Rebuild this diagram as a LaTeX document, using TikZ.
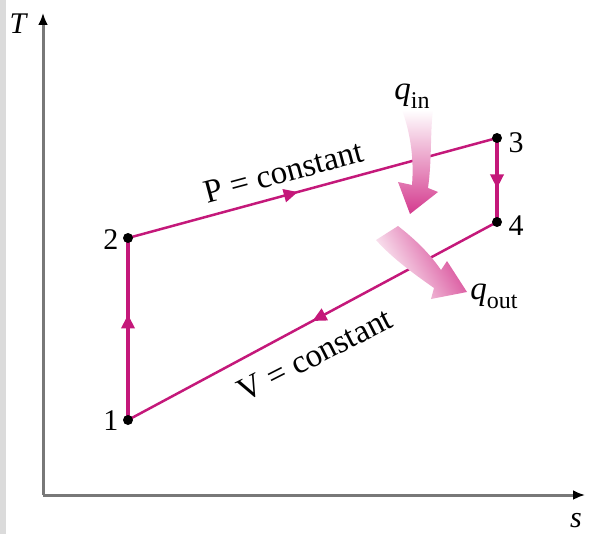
\documentclass[tikz,border=0pt]{standalone}
\usepackage{fontspec}
\setmainfont{Liberation Serif}
\usetikzlibrary{arrows.meta,decorations.markings}
\definecolor{cyclecol}{RGB}{196,24,122}
\definecolor{heatcol}{RGB}{212,58,142}
\definecolor{axiscol}{RGB}{120,120,120}
\tikzset{
  process/.style={draw=cyclecol,line width=2.5pt},
  strong/.style={draw=cyclecol,line width=4pt},
  midarrow/.style={postaction={decorate},
    decoration={markings,mark=at position #1 with {\arrow[cyclecol]{Triangle[length=14pt,width=13pt]}}}},
  state/.style={circle,fill=black,inner sep=0pt,minimum size=10pt},
  axis/.style={draw=axiscol,line width=3pt,-{Latex[length=12pt,width=10pt,black]}},
  lbl/.style={font=\fontsize{30}{34}\selectfont},
  txt/.style={font=\fontsize{33}{38}\selectfont}
}
\newcommand{\heatq}[1]{\textit{q}\raisebox{-0.28em}{\fontsize{24}{26}\selectfont #1}}
\begin{document}
\begin{tikzpicture}[x=1pt,y=-1pt]
\useasboundingbox (0,0) rectangle (601,534);
\fill[black!14] (0,0) rectangle (6,534);
% axes
\coordinate (O) at (43,495);
\coordinate (Ttop) at (43,13);
\coordinate (Send) at (585,495);
\draw[axis] (O) -- (Ttop);
\draw[axis] (O) -- (Send);
\node[lbl,font=\fontsize{30}{34}\selectfont\itshape] (Tl) at (18,24) {T};
\node[lbl,font=\fontsize{30}{34}\selectfont\itshape] (sl) at (576,521) {s};
% states
\coordinate (p1) at (128,420);
\coordinate (p2) at (128,238);
\coordinate (p3) at (497,138);
\coordinate (p4) at (497,222);
\draw[strong,midarrow=0.58] (p1) -- (p2);
\draw[process,midarrow=0.46] (p2) -- (p3);
\draw[strong,midarrow=0.6] (p3) -- (p4);
\draw[process,midarrow=0.5] (p4) -- (p1);
\foreach \p in {p1,p2,p3,p4} \node[state] (\p d) at (\p) {};
\node[lbl,anchor=east] (n1) at (122,421) {1};
\node[lbl,anchor=east] (n2) at (122,240) {2};
\node[lbl,anchor=west] (n3) at (505,143) {3};
\node[lbl,anchor=west] (n4) at (505,226) {4};
\node[txt,rotate=15] (pc) at (284,172) {P = constant};
\node[txt,rotate=27,inner sep=1pt] (vc) at (315,355) {V = constant};
% heat arrows
\shade[top color=white,bottom color=heatcol]
  (402,110) .. controls (411,135) and (414,160) .. (412,185)
  -- (398,182) -- (410,214) -- (438,192) -- (428,188)
  .. controls (432,160) and (430,134) .. (433,110) -- cycle;
\shade[left color=white,right color=heatcol,shading angle=120]
  (398,226) .. controls (416,240) and (430,254) .. (441,270)
  -- (447,261) -- (467,292) -- (431,299) -- (434,288)
  .. controls (414,274) and (392,258) .. (376,240) -- cycle;
\node[txt,inner sep=1pt] (qin) at (412,96) {\heatq{in}};
\node[txt,inner sep=1pt] (qout) at (494,296) {\heatq{out}};
\end{tikzpicture}
\end{document}
